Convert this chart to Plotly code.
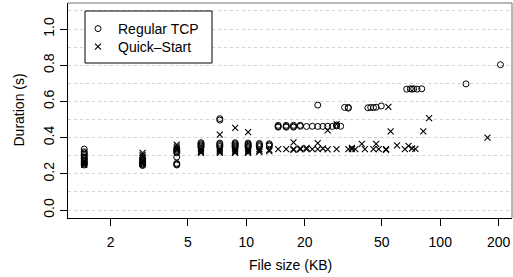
import plotly.graph_objects as go

# ---------------- data ----------------
# Regular TCP: file size (KB) and transfer duration (s)
tcp_size_kb = [
    1.46, 1.46, 1.46, 1.46, 1.46, 1.46, 1.46, 1.46, 1.46, 1.46, 1.46, 1.46,
    2.92, 2.92, 2.92, 2.92, 2.92, 2.92, 2.92,
    4.38, 4.38, 4.38, 4.38, 4.38, 4.38, 4.38, 4.38,
    5.84, 5.84, 5.84, 5.84, 5.84,
    7.30, 7.30, 7.30, 7.30, 7.30, 7.30,
    8.76, 8.76, 8.76, 8.76, 8.76,
    10.22, 10.22, 10.22, 10.22, 10.22,
    11.68, 11.68, 11.68, 11.68,
    13.14, 13.14, 13.14,
    14.60, 14.60, 14.60,
    16.06, 16.06, 16.06,
    17.52, 17.52, 17.52,
    18.98, 18.98,
    20.44, 21.90, 23.36, 23.36, 24.82, 26.28, 27.74,
    29.20, 29.20, 30.66,
    32.12, 33.58, 33.58,
    42.34, 43.80, 45.26, 46.72, 49.64,
    67.16, 70.08, 71.54, 73.00, 75.92, 80.30,
    135.78, 204.40,
]
tcp_duration_s = [
    0.337, 0.322, 0.315, 0.308, 0.300, 0.292, 0.284, 0.276, 0.268, 0.260, 0.254, 0.249,
    0.285, 0.276, 0.268, 0.261, 0.255, 0.250, 0.246,
    0.337, 0.330, 0.323, 0.316, 0.293, 0.258, 0.253, 0.249,
    0.372, 0.366, 0.360, 0.354, 0.348,
    0.505, 0.497, 0.370, 0.363, 0.356, 0.350,
    0.372, 0.366, 0.360, 0.354, 0.348,
    0.370, 0.364, 0.358, 0.352, 0.347,
    0.368, 0.362, 0.356, 0.350,
    0.366, 0.360, 0.354,
    0.462, 0.468, 0.458,
    0.462, 0.468, 0.458,
    0.462, 0.468, 0.458,
    0.463, 0.468,
    0.462, 0.463, 0.462, 0.580, 0.462, 0.463, 0.462,
    0.465, 0.470, 0.463,
    0.567, 0.567, 0.563,
    0.565, 0.567, 0.566, 0.568, 0.575,
    0.668, 0.670, 0.668, 0.670, 0.668, 0.670,
    0.697, 0.803,
]

# Quick-Start: file size (KB) and transfer duration (s)
qs_size_kb = [
    1.46, 1.46, 1.46, 1.46,
    2.92, 2.92, 2.92, 2.92, 2.92, 2.92, 2.92,
    4.38, 4.38, 4.38, 4.38,
    5.84, 5.84, 5.84, 5.84,
    7.30, 7.30, 7.30, 7.30, 7.30,
    8.76, 8.76, 8.76, 8.76, 8.76,
    10.22, 10.22, 10.22, 10.22, 10.22,
    11.68, 11.68, 11.68,
    13.14, 13.14,
    14.60, 16.06,
    17.52, 17.52, 17.52,
    18.98, 18.98,
    20.44, 20.44,
    21.90, 23.36, 23.36, 24.82,
    26.28, 26.28, 29.20, 29.20,
    33.58, 35.04, 35.04, 36.50, 39.42, 40.88,
    45.26, 46.72, 48.18, 52.56, 52.56,
    54.02, 55.48, 59.86, 65.70, 68.62, 71.54, 74.46,
    81.76, 87.60, 175.20,
]
qs_duration_s = [
    0.272, 0.264, 0.256, 0.250,
    0.316, 0.305, 0.295, 0.285, 0.275, 0.265, 0.255,
    0.362, 0.350, 0.340, 0.330,
    0.336, 0.329, 0.322, 0.316,
    0.417, 0.336, 0.329, 0.322, 0.316,
    0.454, 0.336, 0.329, 0.322, 0.316,
    0.430, 0.336, 0.329, 0.322, 0.316,
    0.336, 0.328, 0.321,
    0.332, 0.325,
    0.337, 0.337,
    0.374, 0.337, 0.332,
    0.340, 0.335,
    0.337, 0.343,
    0.337, 0.370, 0.337, 0.340,
    0.440, 0.335, 0.475, 0.337,
    0.337, 0.337, 0.343, 0.337, 0.365, 0.337,
    0.337, 0.365, 0.337, 0.337, 0.333,
    0.570, 0.435, 0.357, 0.337, 0.355, 0.340, 0.338,
    0.435, 0.508, 0.400,
]

x_tick_vals = [2, 5, 10, 20, 50, 100, 200]
x_tick_text = ["2", "5", "10", "20", "50", "100", "200"]

series_names = ["Regular TCP", "Quick\u2013Start"]
x_title = "File size (KB)"
y_title = "Duration (s)"

# ---------------- figure ----------------
FONT = "Liberation Sans, Arial, Helvetica, sans-serif"
W, H = 513, 277
ML, MR, MT, MB = 68, 1, 3, 59
PW, PH = W - ML - MR, H - MT - MB


def py(pixel_y):
    """pixel row (from top of figure) -> paper y"""
    return 1 - (pixel_y - MT) / PH


def px(pixel_x):
    return (pixel_x - ML) / PW


fig = go.Figure()
fig.add_trace(go.Scatter(
    x=tcp_size_kb, y=tcp_duration_s, mode="markers", name=series_names[0],
    marker=dict(symbol="circle-open", size=6, color="black", line=dict(width=1, color="black")),
    legend="legend",
))
fig.add_trace(go.Scatter(
    x=qs_size_kb, y=qs_duration_s, mode="markers", name=series_names[1],
    marker=dict(symbol="x-thin-open", size=6, color="black", line=dict(width=1.1, color="black")),
    legend="legend2",
))

grid_color = "#d2d2d2"
fig.update_layout(
    width=W, height=H,
    margin=dict(l=ML, r=MR, t=MT, b=MB),
    paper_bgcolor="white", plot_bgcolor="white",
    font=dict(family=FONT, size=14, color="black"),
    showlegend=True,
    xaxis=dict(
        type="log", range=[0.0807, 2.370],
        tickmode="array", tickvals=x_tick_vals, ticktext=x_tick_text,
        ticks="outside", ticklen=7, tickwidth=1, tickcolor="black",
        showline=True, linecolor="black", linewidth=1, mirror=False,
        showgrid=False, zeroline=False,
        tickfont=dict(size=14, family=FONT, color="black"),
        ticklabelstandoff=4,
    ),
    yaxis=dict(
        range=[-0.044, 1.144],
        tickmode="linear", tick0=0, dtick=0.2, tickformat=".1f",
        ticks="outside", ticklen=7, tickwidth=1, tickcolor="black",
        tickangle=-90,
        showline=True, linecolor="black", linewidth=1, mirror=False,
        showgrid=True, gridcolor=grid_color, griddash="dot", gridwidth=1,
        zeroline=False,
        minor=dict(tick0=0, dtick=0.1, showgrid=True, gridcolor=grid_color,
                   griddash="dot", gridwidth=1, ticklen=0),
        tickfont=dict(size=14, family=FONT, color="black"),
    ),
    legend=dict(
        x=px(78), y=py(29), xanchor="left", yanchor="middle",
        bgcolor="rgba(0,0,0,0)", borderwidth=0,
        font=dict(size=14, family=FONT, color="black"),
    ),
    legend2=dict(
        x=px(78), y=py(47), xanchor="left", yanchor="middle",
        bgcolor="rgba(0,0,0,0)", borderwidth=0,
        font=dict(size=14, family=FONT, color="black"),
    ),
    shapes=[
        # top and right frame lines
        dict(type="line", xref="paper", yref="paper", x0=0, x1=1, y0=1, y1=1,
             line=dict(color="#707070", width=1)),
        dict(type="line", xref="paper", yref="paper", x0=1, x1=1, y0=0, y1=1,
             line=dict(color="#707070", width=1)),
        # legend frame
        dict(type="rect", xref="paper", yref="paper",
             x0=px(85), x1=px(212), y0=py(63), y1=py(11),
             fillcolor="white", line=dict(color="black", width=1), layer="above"),
    ],
    annotations=[
        dict(text=x_title, xref="paper", yref="paper", x=0.5, y=py(265),
             xanchor="center", yanchor="middle", showarrow=False,
             font=dict(size=14, family=FONT, color="black")),
        dict(text=y_title, xref="paper", yref="paper", x=px(18), y=0.5,
             xanchor="center", yanchor="middle", textangle=-90, showarrow=False,
             font=dict(size=14, family=FONT, color="black")),
    ],
)

fig.write_html(
    "out.html",
    config={"displayModeBar": False},
    post_script="document.body.style.margin='0';document.body.style.overflow='hidden';",
)
